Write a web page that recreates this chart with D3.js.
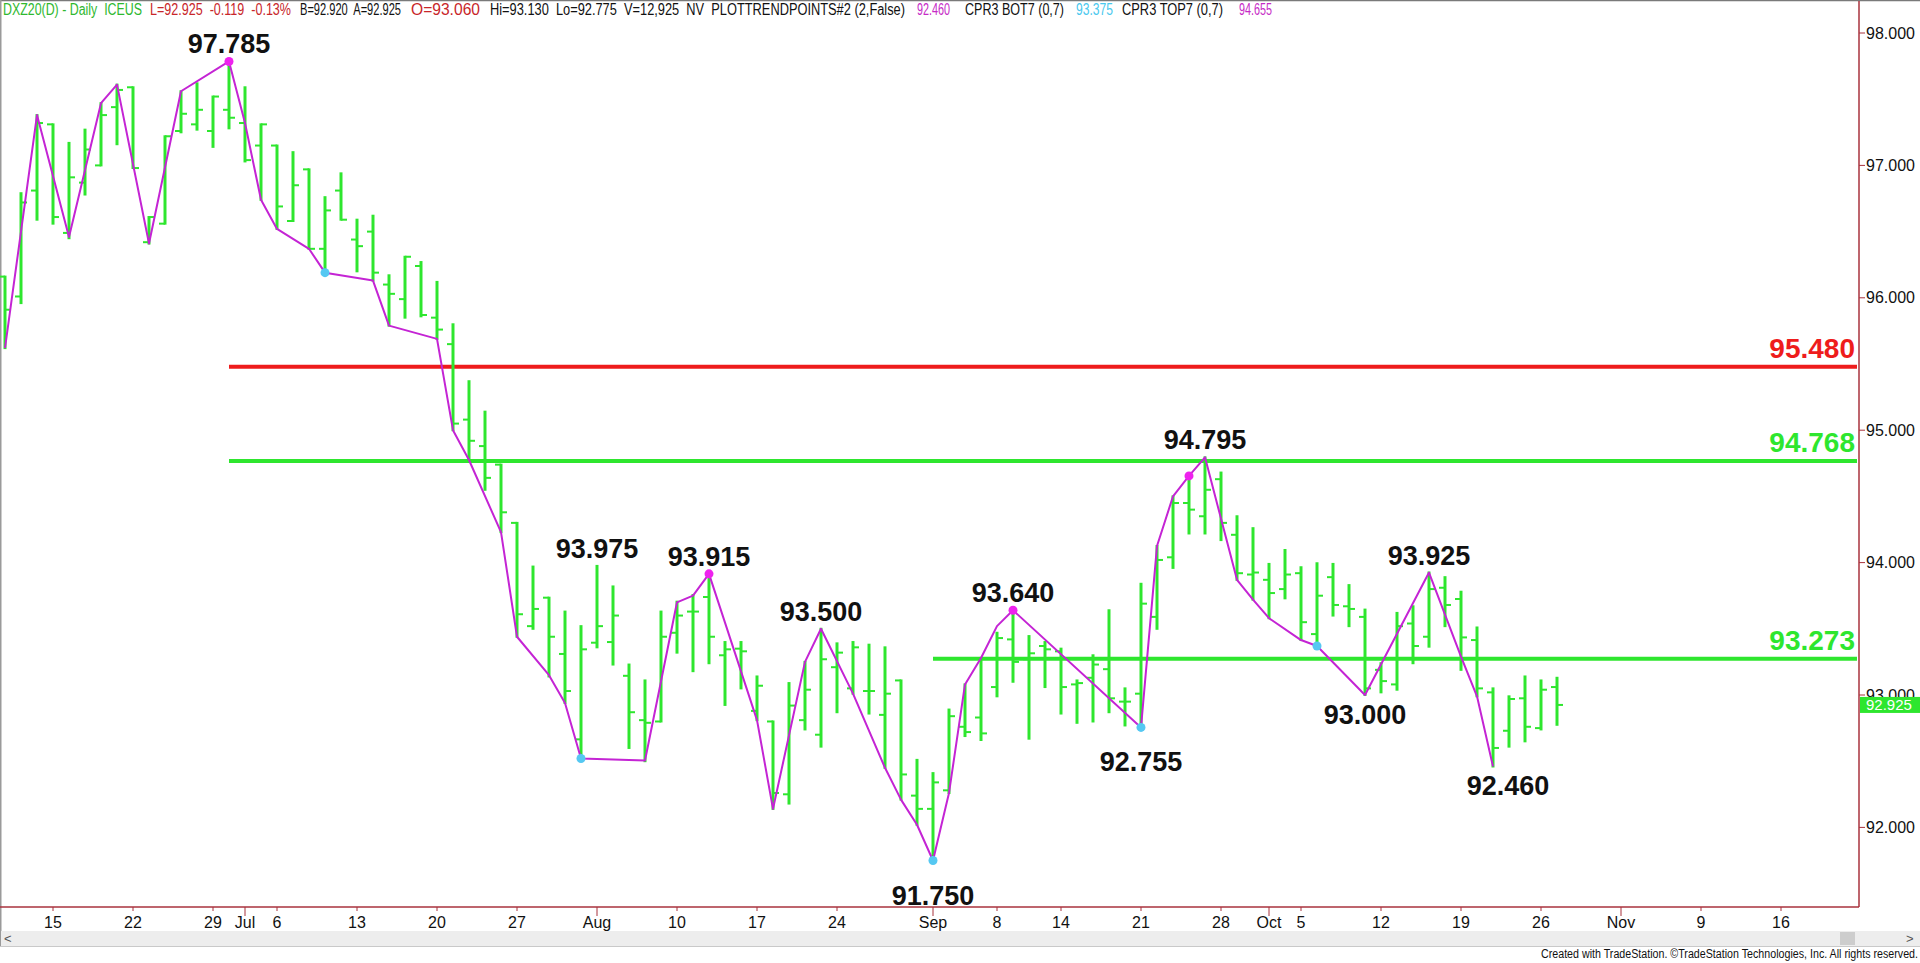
<!DOCTYPE html>
<html>
<head>
<meta charset="utf-8">
<script src="https://cdn.jsdelivr.net/npm/d3@7"></script>
<style>
  html, body { margin: 0; padding: 0; background: #fff; overflow: hidden; }
  svg { display: block; }
  text { font-family: "Liberation Sans", Arial, sans-serif; }
  .narrow { font-family: "Liberation Sans Narrow", "Arial Narrow", "Liberation Sans", Arial, sans-serif; }
</style>
</head>
<body>
<div id="chart"></div>
<script>
// sessions skipped by the exchange
const holidays = ['2020-07-03', '2020-09-07'];

// daily OHLC, one value per session starting 2020-06-10
const opens = [
  96.16, 96.01, 96.81, 97.31, 96.49, 96.87, 97.00, 97.44, 97.59, 96.42,
  96.56, 97.26, 97.31, 97.26, 97.42, 97.32, 97.15, 97.15, 96.58, 96.97,
  96.37, 96.81, 96.44, 96.50, 96.10, 95.99, 96.24, 95.85, 95.65, 95.08,
  94.88, 94.74, 94.30, 93.52, 93.735, 93.31, 92.665, 93.395, 93.40, 93.145,
  92.81, 92.80, 93.47, 93.63, 93.74, 93.30, 93.35, 92.88, 92.80, 92.25,
  92.81, 92.70, 93.21, 93.05, 93.03, 92.85, 93.11, 92.24, 92.14, 92.28,
  92.76, 92.83, 93.06, 93.42, 93.27, 93.37, 93.33, 93.08, 93.13, 93.195,
  92.95, 93.01, 93.59, 94.04, 94.45, 94.35, 94.63, 94.21, 93.91, 93.87,
  93.80, 93.92, 93.46, 93.89, 93.67, 93.59, 93.19, 93.08, 93.54, 93.44,
  93.81, 93.725, 93.415, 93.02, 92.73, 92.975, 92.75, 93.06
];
const highs = [
  96.16, 96.79, 97.38, 97.31, 97.17, 97.27, 97.47, 97.61, 97.59, 96.61,
  97.22, 97.56, 97.62, 97.52, 97.785, 97.59, 97.31, 97.15, 97.10, 96.97,
  96.76, 96.94, 96.59, 96.62, 96.17, 96.31, 96.27, 96.12, 95.80, 95.37,
  95.14, 94.74, 94.30, 93.97, 93.735, 93.63, 93.52, 93.975, 93.82, 93.23,
  93.11, 93.63, 93.705, 93.755, 93.915, 93.40, 93.40, 93.14, 92.80, 93.09,
  93.25, 93.50, 93.39, 93.40, 93.38, 93.36, 93.11, 92.51, 92.41, 92.89,
  93.08, 93.28, 93.47, 93.64, 93.445, 93.40, 93.35, 93.11, 93.30, 93.64,
  93.05, 93.84, 94.125, 94.50, 94.655, 94.795, 94.68, 94.35, 94.26, 93.99,
  94.095, 93.965, 93.995, 93.99, 93.83, 93.645, 93.24, 93.62, 93.67, 93.925,
  93.89, 93.78, 93.51, 93.05, 92.99, 93.14, 93.11, 93.13
];
const lows = [
  95.62, 95.96, 96.59, 96.56, 96.45, 96.78, 97.00, 97.16, 96.98, 96.41,
  96.56, 97.25, 97.27, 97.14, 97.28, 97.03, 96.74, 96.52, 96.58, 96.37,
  96.19, 96.59, 96.20, 96.13, 95.79, 95.85, 95.86, 95.69, 95.00, 94.77,
  94.55, 94.23, 93.44, 93.50, 93.14, 92.94, 92.52, 93.36, 93.23, 92.60,
  92.50, 92.80, 93.32, 93.18, 93.24, 92.925, 93.05, 92.81, 92.14, 92.18,
  92.74, 92.61, 92.87, 93.01, 92.86, 92.45, 92.21, 92.02, 91.75, 92.26,
  92.69, 92.66, 92.99, 93.10, 92.67, 93.06, 92.86, 92.79, 92.80, 92.87,
  92.77, 92.755, 93.50, 93.96, 94.22, 94.22, 94.17, 93.87, 93.72, 93.58,
  93.73, 93.415, 93.37, 93.60, 93.52, 93.00, 93.02, 93.04, 93.24, 93.365,
  93.52, 93.19, 92.99, 92.46, 92.61, 92.65, 92.74, 92.775
];
const closes = [
  95.91, 96.72, 97.32, 96.61, 96.91, 97.12, 97.38, 97.57, 96.98, 96.61,
  97.22, 97.39, 97.42, 97.52, 97.36, 97.04, 97.31, 96.69, 96.85, 96.37,
  96.66, 96.59, 96.39, 96.19, 96.03, 96.31, 95.87, 95.76, 95.05, 94.92,
  94.64, 94.38, 93.61, 93.65, 93.44, 93.03, 93.345, 93.52, 93.60, 92.87,
  92.79, 93.44, 93.60, 93.63, 93.44, 93.345, 93.33, 93.07, 92.26, 92.92,
  93.04, 93.27, 93.32, 93.36, 93.03, 93.01, 92.40, 92.14, 92.34, 92.84,
  92.72, 92.71, 93.43, 93.25, 93.315, 93.345, 93.06, 93.09, 93.23, 92.975,
  92.95, 93.69, 94.02, 94.45, 94.40, 94.55, 94.30, 93.92, 93.925, 93.77,
  93.91, 93.55, 93.75, 93.68, 93.65, 93.05, 93.105, 93.52, 93.37, 93.80,
  93.68, 93.435, 93.05, 92.60, 92.97, 92.76, 93.04, 92.925
];

// PLOTTRENDPOINTS zigzag: [bar index, price]
const trendPoints = [
  [0, 95.62], [2, 97.38], [4, 96.46], [6, 97.47], [7, 97.61], [9, 96.41],
  [11, 97.56], [14, 97.785], [15, 97.32], [16, 96.74], [17, 96.52], [19, 96.37],
  [20, 96.19], [23, 96.13], [24, 95.79], [27, 95.69], [28, 95.00], [29, 94.775],
  [31, 94.23], [32, 93.44], [34, 93.15], [35, 92.94], [36, 92.52], [40, 92.505],
  [42, 93.70], [43, 93.75], [44, 93.915], [47, 92.81], [48, 92.14], [50, 93.25],
  [51, 93.50], [53, 93.01], [55, 92.45], [56, 92.21], [57, 92.02], [58, 91.75],
  [59, 92.26], [60, 93.08], [61, 93.28], [62, 93.52], [63, 93.64], [71, 92.755],
  [72, 94.125], [73, 94.50], [74, 94.655], [75, 94.795], [77, 93.87], [78, 93.72],
  [79, 93.58], [81, 93.415], [82, 93.37], [85, 93.00], [89, 93.925], [91, 93.29],
  [92, 92.99], [93, 92.46]
];

// CPR3 markers: [bar index, price]
const topMarks = [[14, 97.785], [44, 93.915], [63, 93.64], [74, 94.655]];
const botMarks = [[20, 96.19], [36, 92.52], [58, 91.75], [71, 92.755], [82, 93.37]];

// swing labels: [date, value, side]
const pivotLabels = [
  ['2020-06-30', 97.785, 'above'],
  ['2020-08-03', 93.975, 'above'],
  ['2020-08-12', 93.915, 'above'],
  ['2020-08-21', 93.500, 'above'],
  ['2020-09-01', 91.750, 'below'],
  ['2020-09-09', 93.640, 'above'],
  ['2020-09-21', 92.755, 'below'],
  ['2020-09-25', 94.795, 'above'],
  ['2020-10-09', 93.000, 'below'],
  ['2020-10-15', 93.925, 'above'],
  ['2020-10-21', 92.460, 'below']
];

// horizontal levels: [value, start date, kind]
const levels = [
  [95.480, '2020-06-30', 'resistance'],
  [94.768, '2020-06-30', 'support'],
  [93.273, '2020-09-01', 'support']
];

const yTicks = [92, 93, 94, 95, 96, 97, 98];

const xTicks = [
  ['2020-06-15', '15'], ['2020-06-22', '22'], ['2020-06-29', '29'], ['2020-07-01', 'Jul'],
  ['2020-07-06', '6'], ['2020-07-13', '13'], ['2020-07-20', '20'], ['2020-07-27', '27'],
  ['2020-08-03', 'Aug'], ['2020-08-10', '10'], ['2020-08-17', '17'], ['2020-08-24', '24'],
  ['2020-09-01', 'Sep'], ['2020-09-08', '8'], ['2020-09-14', '14'], ['2020-09-21', '21'],
  ['2020-09-28', '28'], ['2020-10-01', 'Oct'], ['2020-10-05', '5'], ['2020-10-12', '12'],
  ['2020-10-19', '19'], ['2020-10-26', '26'], ['2020-11-02', 'Nov'], ['2020-11-09', '9'],
  ['2020-11-16', '16']
];

const header = [
  ['DXZ20(D) - Daily  ICEUS', '#2fb82f', 3, 139],
  ['L=92.925  -0.119  -0.13%', '#c8262a', 150, 141],
  ['B=92.920  A=92.925', '#111', 300, 101],
  ['O=93.060', '#c8262a', 411, 69],
  ['Hi=93.130  Lo=92.775  V=12,925  NV  PLOTTRENDPOINTS#2 (2,False)', '#111', 490, 415],
  ['92.460', '#c62ac6', 917, 33],
  ['CPR3 BOT7 (0,7)', '#111', 965, 99],
  ['93.375', '#49c8ee', 1076, 37],
  ['CPR3 TOP7 (0,7)', '#111', 1122, 101],
  ['94.655', '#c62ac6', 1239, 33]
];

const lastPrice = 92.925;

// ---- layout / style ----
const W = 1920, H = 963;
const plotRight = 1859, plotBottom = 907;
const barGreen = '#2ee62e';
const levelColor = { resistance: '#ee1c1c', support: '#2ee62e' };
const labelNudge = { '91.750': [0, 15], '92.755': [0, 15], '92.460': [15, 0] };
const fmt = d3.format('.3f');
const iso = d3.utcFormat('%Y-%m-%d');

const sessions = d3.utcDay.range(new Date(Date.UTC(2020, 5, 10)), new Date(Date.UTC(2020, 10, 21)))
  .filter(d => d.getUTCDay() !== 0 && d.getUTCDay() !== 6)
  .map(iso)
  .filter(s => !holidays.includes(s));

const bars = opens.map((o, i) => ({
  date: sessions[i], open: o, high: highs[i], low: lows[i], close: closes[i]
}));

const x = d3.scalePoint()
  .domain(sessions)
  .range([5, 5 + 16 * (sessions.length - 1)]);

const y = d3.scaleLinear()
  .domain([92, 98])
  .range([827.4, 33]);

const svg = d3.select('#chart')
  .append('svg')
  .attr('width', W)
  .attr('height', H);

svg.append('rect').attr('width', W).attr('height', H).attr('fill', '#fff');

// frame
svg.append('line')
  .attr('x1', 0).attr('x2', W).attr('y1', 0.5).attr('y2', 0.5)
  .attr('stroke', '#7a7a7a').attr('stroke-width', 1.5);
svg.append('line')
  .attr('x1', 0.75).attr('x2', 0.75).attr('y1', 0).attr('y2', 947)
  .attr('stroke', '#9a9a9a').attr('stroke-width', 1.5);

// header
svg.append('g')
  .selectAll('text')
  .data(header)
  .join('text')
  .attr('class', 'narrow')
  .attr('x', d => d[2])
  .attr('y', 15)
  .attr('font-size', 16)
  .attr('fill', d => d[1])
  .attr('textLength', d => d[3])
  .attr('lengthAdjust', 'spacingAndGlyphs')
  .style('white-space', 'pre')
  .text(d => d[0]);

// levels
const levelG = svg.append('g');
levelG.selectAll('line')
  .data(levels)
  .join('line')
  .attr('x1', d => x(d[1]))
  .attr('x2', plotRight - 2)
  .attr('y1', d => y(d[0]))
  .attr('y2', d => y(d[0]))
  .attr('stroke', d => levelColor[d[2]])
  .attr('stroke-width', 4);

levelG.selectAll('text')
  .data(levels)
  .join('text')
  .attr('x', plotRight - 4)
  .attr('y', d => y(d[0]) - 9)
  .attr('text-anchor', 'end')
  .attr('font-size', 28)
  .attr('font-weight', 'bold')
  .attr('fill', d => levelColor[d[2]])
  .text(d => fmt(d[0]));

// OHLC bars
const barG = svg.append('g')
  .attr('stroke', barGreen);

const bar = barG.selectAll('g')
  .data(bars)
  .join('g')
  .attr('transform', d => `translate(${x(d.date)},0)`);

bar.append('line')
  .attr('y1', d => y(d.high) - 1)
  .attr('y2', d => y(d.low) + 1)
  .attr('stroke-width', 3);

bar.append('line')
  .attr('x1', -6).attr('x2', 0)
  .attr('y1', d => y(d.open)).attr('y2', d => y(d.open))
  .attr('stroke-width', 2);

bar.append('line')
  .attr('x1', 0).attr('x2', 6)
  .attr('y1', d => y(d.close)).attr('y2', d => y(d.close))
  .attr('stroke-width', 2);

// zigzag
const zig = d3.line()
  .x(d => x(sessions[d[0]]))
  .y(d => y(d[1]));

svg.append('path')
  .datum(trendPoints)
  .attr('d', zig)
  .attr('fill', 'none')
  .attr('stroke', '#c424d4')
  .attr('stroke-width', 2)
  .attr('stroke-linejoin', 'round');

svg.append('g')
  .selectAll('circle')
  .data(topMarks)
  .join('circle')
  .attr('cx', d => x(sessions[d[0]]))
  .attr('cy', d => y(d[1]))
  .attr('r', 4.5)
  .attr('fill', '#ee22ee');

svg.append('g')
  .selectAll('circle')
  .data(botMarks)
  .join('circle')
  .attr('cx', d => x(sessions[d[0]]))
  .attr('cy', d => y(d[1]))
  .attr('r', 4.5)
  .attr('fill', '#55c8f2');

// swing labels
svg.append('g')
  .selectAll('text')
  .data(pivotLabels)
  .join('text')
  .attr('x', d => x(d[0]) + (labelNudge[fmt(d[1])] || [0, 0])[0])
  .attr('y', d => (d[2] === 'above' ? y(d[1]) - 8 : y(d[1]) + 29) + (labelNudge[fmt(d[1])] || [0, 0])[1])
  .attr('text-anchor', 'middle')
  .attr('font-size', 27)
  .attr('font-weight', 'bold')
  .attr('fill', '#111')
  .text(d => fmt(d[1]));

// axes
const axisColor = '#a8323c';
svg.append('line')
  .attr('x1', 0).attr('x2', plotRight)
  .attr('y1', plotBottom).attr('y2', plotBottom)
  .attr('stroke', axisColor).attr('stroke-width', 1.5);
svg.append('line')
  .attr('x1', plotRight).attr('x2', plotRight)
  .attr('y1', 1).attr('y2', plotBottom)
  .attr('stroke', axisColor).attr('stroke-width', 1.5);

const yAxis = svg.append('g');
yAxis.selectAll('line')
  .data(yTicks)
  .join('line')
  .attr('x1', plotRight).attr('x2', plotRight + 6)
  .attr('y1', d => y(d)).attr('y2', d => y(d))
  .attr('stroke', axisColor);
yAxis.selectAll('text')
  .data(yTicks)
  .join('text')
  .attr('x', plotRight + 7)
  .attr('y', d => y(d))
  .attr('dy', '0.35em')
  .attr('font-size', 16)
  .attr('fill', '#111')
  .text(d => fmt(d));

// last price tag
svg.append('rect')
  .attr('x', plotRight + 1)
  .attr('y', y(lastPrice) - 8)
  .attr('width', W - plotRight - 1)
  .attr('height', 16)
  .attr('fill', '#2ee62e');
svg.append('text')
  .attr('x', plotRight + 7)
  .attr('y', y(lastPrice))
  .attr('dy', '0.35em')
  .attr('font-size', 15)
  .attr('fill', '#fff')
  .text(fmt(lastPrice));

const isMonth = s => /[A-Za-z]/.test(s);
const xAxis = svg.append('g');
xAxis.selectAll('line')
  .data(xTicks)
  .join('line')
  .attr('x1', d => x(d[0])).attr('x2', d => x(d[0]))
  .attr('y1', plotBottom)
  .attr('y2', d => plotBottom + (isMonth(d[1]) ? 9 : 4))
  .attr('stroke', axisColor);
xAxis.selectAll('text')
  .data(xTicks)
  .join('text')
  .attr('class', 'narrow')
  .attr('x', d => x(d[0]))
  .attr('y', 928)
  .attr('text-anchor', 'middle')
  .attr('font-size', 16)
  .attr('fill', '#111')
  .text(d => d[1]);

// scroll bar
svg.append('rect')
  .attr('x', 1).attr('y', 931).attr('width', W - 1).attr('height', 15)
  .attr('fill', '#ededed');
svg.append('line')
  .attr('x1', 0).attr('x2', W).attr('y1', 946.5).attr('y2', 946.5)
  .attr('stroke', '#c9c9c9');
svg.append('rect')
  .attr('x', 1840).attr('y', 932).attr('width', 15).attr('height', 13)
  .attr('fill', '#cdcdcd');
svg.append('text')
  .attr('x', 4).attr('y', 943).attr('font-size', 13).attr('fill', '#555').text('<');
svg.append('text')
  .attr('x', 1906).attr('y', 943).attr('font-size', 13).attr('fill', '#555').text('>');

svg.append('text')
  .attr('class', 'narrow')
  .attr('x', 1541)
  .attr('y', 958)
  .attr('font-size', 12)
  .attr('fill', '#111')
  .attr('textLength', 377)
  .attr('lengthAdjust', 'spacingAndGlyphs')
  .text('Created with TradeStation. \u00a9TradeStation Technologies, Inc. All rights reserved.');
</script>
</body>
</html>
